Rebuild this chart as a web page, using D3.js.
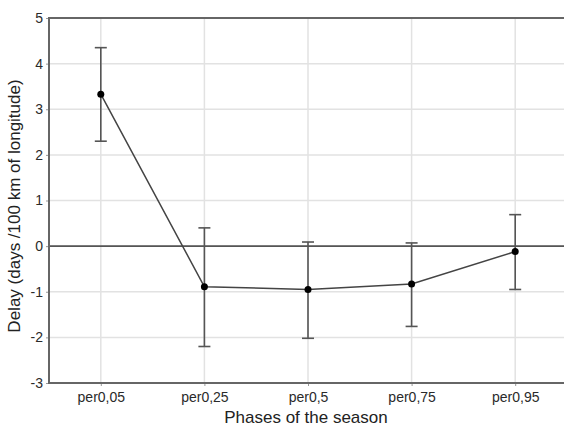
<!DOCTYPE html>
<html>
<head>
<meta charset="utf-8">
<script src="https://cdn.jsdelivr.net/npm/d3@7"></script>
<style>
body { margin: 0; background: #fff; }
svg { display: block; font-family: "Liberation Sans", Arial, sans-serif; }
</style>
</head>
<body>
<script>

var phases = ["per0,05", "per0,25", "per0,5", "per0,75", "per0,95"],
  means = [3.33, -0.89, -0.95, -0.83, -0.12],
  upper = [4.35, 0.40, 0.09, 0.07, 0.69],
  lower = [2.30, -2.20, -2.02, -1.76, -0.95],
  yTicks = [-3, -2, -1, 0, 1, 2, 3, 4, 5]

var data = phases.map(function(p, i){ return {phase: p, mean: means[i], hi: upper[i], lo: lower[i]} })

var W = 564, H = 426,
  margin = {top: 18, bottom: 43, left: 49, right: -3}

var svg = d3.select("body").append("svg").attr("width", W).attr("height", H)

var x = d3.scalePoint()
  .domain(phases)
  .range([margin.left, W - margin.right])
  .padding(0.5)

var y = d3.scaleLinear()
  .domain([-3, 5])
  .range([H - margin.bottom, margin.top])

// grid
svg.append("g").selectAll("line").data(yTicks).enter().append("line")
  .attr("x1", margin.left).attr("x2", W)
  .attr("y1", function(d){ return y(d) }).attr("y2", function(d){ return y(d) })
  .attr("stroke", "#e2e2e2").attr("stroke-width", 1.5)

svg.append("g").selectAll("line").data(phases).enter().append("line")
  .attr("x1", function(d){ return x(d) }).attr("x2", function(d){ return x(d) })
  .attr("y1", y(5)).attr("y2", y(-3))
  .attr("stroke", "#e2e2e2").attr("stroke-width", 1.5)

// zero line
svg.append("line")
  .attr("x1", margin.left).attr("x2", W)
  .attr("y1", y(0)).attr("y2", y(0))
  .attr("stroke", "#555").attr("stroke-width", 1.6)

// y axis
var yAxis = svg.append("g").attr("class", "axis")
  .attr("transform", `translate(${margin.left}, 0)`)
  .call(d3.axisLeft(y).tickValues(yTicks).tickSize(3).tickPadding(3).tickFormat(function(d){ return String(d) }))
yAxis.select(".domain").remove()
yAxis.selectAll("line").attr("stroke", "#999")
yAxis.selectAll("text").attr("font-size", 14).attr("fill", "#2a2a2a")
  .attr("font-family", "Liberation Sans, Arial, sans-serif")

// x axis
var xAxis = svg.append("g").attr("class", "axis")
  .attr("transform", `translate(0, ${y(-3)})`)
  .call(d3.axisBottom(x).tickSize(3).tickPadding(6))
xAxis.select(".domain").remove()
xAxis.selectAll("line").attr("stroke", "#999")
xAxis.selectAll("text").attr("font-size", 14).attr("fill", "#2a2a2a")
  .attr("font-family", "Liberation Sans, Arial, sans-serif")

// frame (top, left, bottom)
svg.append("path")
  .attr("d", `M${W},${y(5)}H${margin.left}V${y(-3)}H${W}`)
  .attr("fill", "none").attr("stroke", "#666").attr("stroke-width", 2)

// error bars
var bars = svg.append("g").selectAll("g").data(data).enter().append("g")
  .attr("stroke", "#555").attr("stroke-width", 1.6)
bars.append("line")
  .attr("x1", function(d){ return x(d.phase) }).attr("x2", function(d){ return x(d.phase) })
  .attr("y1", function(d){ return y(d.hi) }).attr("y2", function(d){ return y(d.lo) })
bars.append("line")
  .attr("x1", function(d){ return x(d.phase) - 6 }).attr("x2", function(d){ return x(d.phase) + 6 })
  .attr("y1", function(d){ return y(d.hi) }).attr("y2", function(d){ return y(d.hi) })
bars.append("line")
  .attr("x1", function(d){ return x(d.phase) - 6 }).attr("x2", function(d){ return x(d.phase) + 6 })
  .attr("y1", function(d){ return y(d.lo) }).attr("y2", function(d){ return y(d.lo) })

// mean line
var line = d3.line().x(function(d){ return x(d.phase) }).y(function(d){ return y(d.mean) })
svg.append("path").datum(data)
  .attr("d", line)
  .attr("fill", "none").attr("stroke", "#444").attr("stroke-width", 1.5)

svg.append("g").selectAll("circle").data(data).enter().append("circle")
  .attr("cx", function(d){ return x(d.phase) })
  .attr("cy", function(d){ return y(d.mean) })
  .attr("r", 3.5)
  .attr("fill", "#000")

// labels
svg.append("text").text("Phases of the season")
  .attr("x", 306).attr("y", 423)
  .attr("text-anchor", "middle").attr("font-size", 17).attr("fill", "#222")

svg.append("text").text("Delay (days /100 km of longitude)")
  .attr("transform", "translate(20, 206) rotate(-90)")
  .attr("text-anchor", "middle").attr("font-size", 17).attr("fill", "#222")

</script>
</body>
</html>
